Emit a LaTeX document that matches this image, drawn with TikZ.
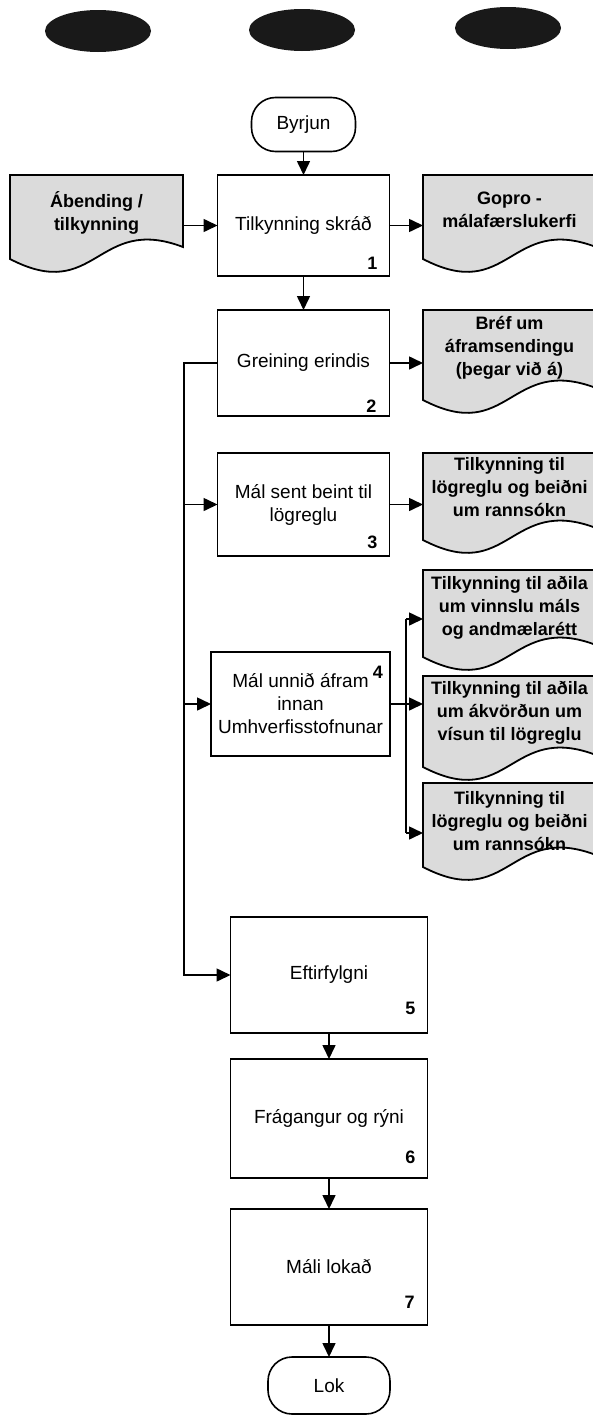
\documentclass[tikz,border=0pt]{standalone}
\usepackage{fontspec}
\setmainfont{Liberation Sans}
\usetikzlibrary{arrows.meta,calc,shapes.geometric}
\tikzset{
  boxnode/.style={draw, line width=1.8pt, align=center, inner sep=0pt, outer sep=0pt, font=\fontsize{19}{23}\selectfont},
  termnode/.style={draw, line width=1.6pt, rounded corners=24pt, inner sep=0pt, outer sep=0pt, font=\fontsize{19}{23}\selectfont},
  doctext/.style={align=center, inner sep=0pt, outer sep=0pt, font=\bfseries\fontsize{18}{23}\selectfont},
  docline/.style={draw, line width=1.8pt, fill=black!14},
  numnode/.style={font=\bfseries\fontsize{18}{20}\selectfont, inner sep=0pt},
  conn/.style={line width=1.6pt},
  arr/.style={conn, -{Triangle[length=14pt,width=13pt]}},
  blob/.style={ellipse, fill=black!90, draw=none, minimum width=106pt, minimum height=42pt, inner sep=0pt},
}
\newcommand{\docshape}[4]{%
  \path[docline] (#1,#3) -- (#2,#3) -- (#2,#4-12) .. controls ({(#1+#2)/2},#4-45) and ({(#1+#2)/2},#4+45) .. (#1,#4) -- cycle;}
\begin{document}
\begin{tikzpicture}[x=1pt,y=-1pt]
\useasboundingbox (0,0) rectangle (593,1416);
% top blobs
\node[blob] (e1) at (98,31) {};
\node[blob] (e2) at (302,30) {};
\node[blob] (e3) at (508,28) {};
% document shapes
\docshape{10}{183}{175}{259}
\docshape{423}{596}{175}{259}
\docshape{423}{596}{310}{400}
\docshape{423}{596}{453}{540}
\docshape{423}{596}{570}{657}
\docshape{423}{596}{676}{767}
\docshape{423}{596}{783}{867}
\node[doctext, minimum width=173pt] (d1) at (96.5,213) {Ábending /\\tilkynning};
\node[doctext, minimum width=173pt] (dg) at (509.5,210) {Gopro -\\málafærslukerfi};
\node[doctext, minimum width=173pt] (d2) at (509.5,347.5) {Bréf um\\áframsendingu\\(þegar við á)};
\node[doctext, minimum width=173pt] (d3) at (509.5,487) {Tilkynning til\\lögreglu og beiðni\\um rannsókn};
\node[doctext, minimum width=173pt] (d4a) at (509.5,608) {Tilkynning til aðila\\um vinnslu máls\\og andmælarétt};
\node[doctext, minimum width=173pt] (d4b) at (509.5,713) {Tilkynning til aðila\\um ákvörðun um\\vísun til lögreglu};
\node[doctext, minimum width=173pt] (d4c) at (509.5,821) {Tilkynning til\\lögreglu og beiðni\\um rannsókn};
% terminals
\node[termnode, minimum width=104pt, minimum height=54pt] (by) at (303.5,124.5) {Byrjun};
\node[termnode, minimum width=122pt, minimum height=57pt] (lok) at (329,1385.5) {Lok};
% process boxes
\node[boxnode, minimum width=172pt, minimum height=101pt] (b1) at (303.5,225.5) {Tilkynning skráð};
\node[boxnode, minimum width=172pt, minimum height=106pt] (b2) at (303.5,363) {Greining erindis};
\node[boxnode, minimum width=172pt, minimum height=103pt] (b3) at (303.5,504.5) {Mál sent beint til\\lögreglu};
\node[boxnode, minimum width=179pt, minimum height=104pt] (b4) at (300.5,704) {Mál unnið áfram\\innan\\Umhverfisstofnunar};
\node[boxnode, minimum width=197pt, minimum height=116pt] (b5) at (329,975) {Eftirfylgni};
\node[boxnode, minimum width=197pt, minimum height=119pt] (b6) at (329,1118.5) {Frágangur og rýni};
\node[boxnode, minimum width=197pt, minimum height=116pt] (b7) at (329,1267) {Máli lokað};
% numbers
\node[numnode] (n1) at ($(b1.south east)+(-17,-13)$) {1};
\node[numnode] (n2) at ($(b2.south east)+(-18,-10)$) {2};
\node[numnode] (n3) at ($(b3.south east)+(-17,-14)$) {3};
\node[numnode] (n4) at ($(b4.north east)+(-12,20)$) {4};
\node[numnode] (n5) at ($(b5.south east)+(-17,-25)$) {5};
\node[numnode] (n6) at ($(b6.south east)+(-17,-21)$) {6};
\node[numnode] (n7) at ($(b7.south east)+(-18,-23)$) {7};
% connectors
\coordinate (L) at (184,0);
\coordinate (ja) at (406,619);
\coordinate (jc) at (406,833);
\draw[arr] (by.south) -- (b1.north);
\draw[arr] (b1.west -| d1.east) -- (b1.west);
\draw[arr] (b1.east) -- (b1.east -| dg.west);
\draw[arr] (b1.south) -- (b2.north);
\draw[arr] (b2.east) -- (b2.east -| d2.west);
\draw[arr] (b2.west) -- (b2.west -| L) |- (b5.west);
\draw[arr] (b3.west -| L) -- (b3.west);
\draw[arr] (b4.west -| L) -- (b4.west);
\draw[arr] (b3.east) -- (b3.east -| d3.west);
\draw[arr] (b4.east) -- (b4.east -| d4b.west);
\draw[conn] (ja) -- (jc);
\draw[arr] (ja) -- (ja -| d4a.west);
\draw[arr] (jc) -- (jc -| d4c.west);
\draw[arr] (b5.south) -- (b6.north);
\draw[arr] (b6.south) -- (b7.north);
\draw[arr] (b7.south) -- (lok.north);
\end{tikzpicture}
\end{document}
